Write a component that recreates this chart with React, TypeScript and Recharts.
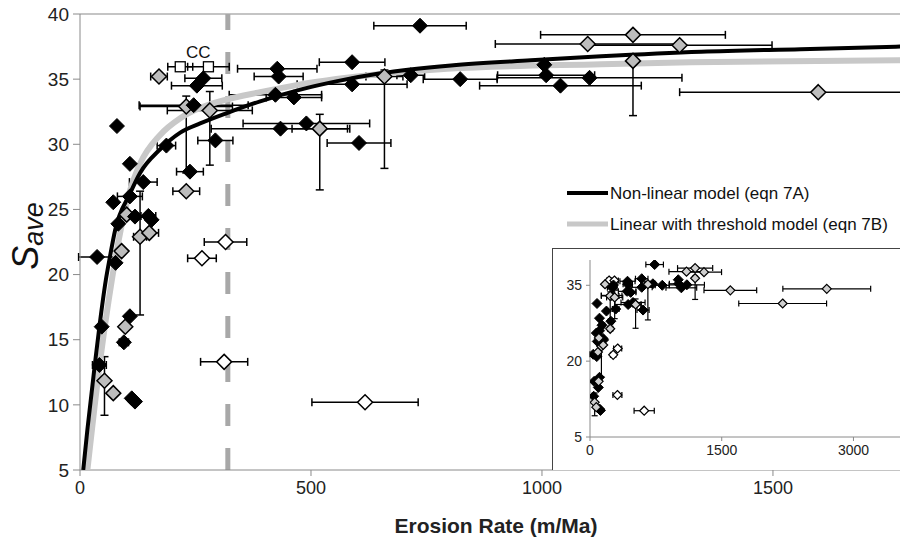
import React from 'react';
import { ComposedChart, ScatterChart, Scatter, XAxis, YAxis, ErrorBar, ReferenceLine, ReferenceDot } from 'recharts';

type Pt = { v: number; s: number; xe?: number | number[]; ye?: number | number[] };

// Filled black diamonds: erosion rate (m/Ma), S_ave, x error, y error
const blackPoints: Pt[] = [
  { v: 37, s: 21.35, xe: 40 },
  { v: 80, s: 31.4 },
  { v: 77, s: 20.9 },
  { v: 47, s: 16.0 },
  { v: 108, s: 16.8 },
  { v: 95, s: 14.8, xe: 10 },
  { v: 42, s: 13.06, xe: 15 },
  { v: 112, s: 10.5 },
  { v: 119, s: 10.25 },
  { v: 72, s: 25.55 },
  { v: 108, s: 26.0, xe: 27 },
  { v: 137, s: 27.1, xe: 30 },
  { v: 108, s: 28.5 },
  { v: 187, s: 29.9, xe: 20 },
  { v: 293, s: 30.3, xe: 38 },
  { v: 238, s: 27.9, xe: 29 },
  { v: 119, s: 24.45 },
  { v: 148, s: 24.5, xe: 16 },
  { v: 83, s: 23.9 },
  { v: 155, s: 24.2 },
  { v: 253, s: 34.5, xe: 55 },
  { v: 267, s: 35.06, xe: 40 },
  { v: 246, s: 33.0, xe: 118 },
  { v: 427, s: 35.8, xe: 86 },
  { v: 430, s: 35.2, xe: 53 },
  { v: 423, s: 33.8, xe: 100 },
  { v: 463, s: 33.6, xe: 60 },
  { v: 434, s: 31.2, xe: 150 },
  { v: 490, s: 31.6, xe: 137 },
  { v: 589, s: 36.3, xe: 71 },
  { v: 589, s: 34.6, xe: 119 },
  { v: 716, s: 35.3, xe: 30 },
  { v: 823, s: 35.0, xe: 80 },
  { v: 604, s: 30.1, xe: 69 },
  { v: 736, s: 39.1, xe: 100 },
  { v: 1005, s: 36.1 },
  { v: 1009, s: 35.3, xe: 105 },
  { v: 1040, s: 34.5, xe: 175 },
  { v: 1103, s: 35.1, xe: 200 },
];

// Grey diamonds
const greyPoints: Pt[] = [
  { v: 171, s: 35.2, xe: 18 },
  { v: 230, s: 32.9, xe: 100, ye: [5.1, 0.8] },
  { v: 281, s: 32.6, xe: 92, ye: [4.2, 1.45] },
  { v: 230, s: 26.4, xe: 29 },
  { v: 90, s: 21.8 },
  { v: 101, s: 24.6 },
  { v: 130, s: 22.9, xe: 14, ye: [6.0, 3.5] },
  { v: 150, s: 23.2, xe: 20 },
  { v: 98, s: 16.0 },
  { v: 53, s: 11.85, ye: [2.65, 1.85] },
  { v: 72, s: 10.9 },
  { v: 519, s: 31.2, xe: 60, ye: [4.7, 1.1] },
  { v: 659, s: 35.2, xe: 40, ye: [7.05, 0.5] },
  { v: 1099, s: 37.7, xe: 200 },
  { v: 1197, s: 38.4, xe: 200 },
  { v: 1298, s: 37.6, xe: 200 },
  { v: 1197, s: 36.4, ye: [4.2, 0.4] },
  { v: 1598, s: 34.0, xe: 300 },
];

// Open diamonds
const openPoints: Pt[] = [
  { v: 315, s: 22.5, xe: 46 },
  { v: 264, s: 21.25, xe: 31 },
  { v: 312, s: 13.3, xe: 51 },
  { v: 617, s: 10.2, xe: 115 },
];

// Open squares (CC)
const ccPoints: Pt[] = [
  { v: 217, s: 35.95, xe: 27 },
  { v: 278, s: 35.95, xe: 45 },
];

// Extra grey points visible only in the wide inset
const insetExtraGrey: Pt[] = [
  { v: 2696, s: 34.3, xe: 500 },
  { v: 2194, s: 31.4, xe: 500 },
];

// Model curves
const nonLinearCurve = [
  { v: 7, s: 5 }, { v: 16, s: 8.1 }, { v: 32.5, s: 13.2 }, { v: 42, s: 16 }, { v: 56, s: 19.6 },
  { v: 65, s: 21.4 }, { v: 76, s: 23.4 }, { v: 108, s: 26.2 }, { v: 130, s: 27.8 }, { v: 173, s: 29.6 },
  { v: 217, s: 30.9 }, { v: 260, s: 31.6 }, { v: 318, s: 32.4 }, { v: 390, s: 33.3 }, { v: 477, s: 34.2 },
  { v: 557, s: 34.85 }, { v: 651, s: 35.45 }, { v: 803, s: 36.05 }, { v: 976, s: 36.45 },
  { v: 1128, s: 36.75 }, { v: 1345, s: 37.1 }, { v: 1560, s: 37.3 }, { v: 1779, s: 37.5 },
];

const thresholdCurve = [
  { v: 16, s: 5 }, { v: 43, s: 13.2 }, { v: 69, s: 19.6 }, { v: 88, s: 23.4 }, { v: 108, s: 26.4 },
  { v: 130, s: 28.5 }, { v: 173, s: 30.7 }, { v: 217, s: 32.0 }, { v: 260, s: 32.8 }, { v: 318, s: 33.45 },
  { v: 390, s: 34.0 }, { v: 477, s: 34.6 }, { v: 651, s: 35.4 }, { v: 795, s: 35.8 }, { v: 1128, s: 36.15 },
  { v: 1323, s: 36.3 }, { v: 1779, s: 36.45 },
];

const mainXTicks = [0, 500, 1000, 1500];
const mainYTicks = [5, 10, 15, 20, 25, 30, 35, 40];
const insetXTicks = [0, 1500, 3000];
const insetYTicks = [5, 20, 35];
const thresholdRate = 320;
const legendLabels = ['Non-linear model (eqn 7A)', 'Linear with threshold model (eqn 7B)'];

const FONT = '"Liberation Sans", Arial, Helvetica, sans-serif';

const diamond = (fill: string, r: number, sw: number) => (props: any) => {
  const { cx, cy } = props;
  if (cx == null || cy == null) return <g />;
  return (
    <path
      d={`M${cx},${cy - r}L${cx + r},${cy}L${cx},${cy + r}L${cx - r},${cy}Z`}
      fill={fill}
      stroke="#000"
      strokeWidth={sw}
    />
  );
};

const square = (r: number) => (props: any) => {
  const { cx, cy } = props;
  if (cx == null || cy == null) return <g />;
  return <rect x={cx - r} y={cy - r} width={2 * r} height={2 * r} fill="#fff" stroke="#000" strokeWidth={1.3} />;
};

const noShape = () => <g />;

const YTitle = () => (
  <text transform="translate(38,236) rotate(-90)" textAnchor="middle" fontFamily={FONT} fill="#111" fontStyle="italic">
    <tspan fontSize={36}>S</tspan>
    <tspan fontSize={27} dy={5}>ave</tspan>
  </text>
);

const XTitle = () => (
  <text x={496} y={533} textAnchor="middle" fontFamily={FONT} fontSize={21} fontWeight="bold" fill="#222">
    Erosion Rate (m/Ma)
  </text>
);

const errBars = (w: number, sw: number) => [
  <ErrorBar key="x" dataKey="xe" direction="x" width={w} stroke="#000" strokeWidth={sw} />,
  <ErrorBar key="y" dataKey="ye" direction="y" width={w} stroke="#000" strokeWidth={sw} />,
];

export default function App() {
  return (
    <div style={{ position: 'absolute', left: 0, top: 0, width: 900, height: 549, background: '#fff', overflow: 'hidden' }}>
      <ComposedChart width={900} height={549} margin={{ top: 14, right: 0, bottom: 0, left: 0 }}>
        <XAxis
          type="number"
          dataKey="v"
          domain={[0, 1775]}
          allowDataOverflow
          ticks={mainXTicks}
          height={79}
          tickSize={6}
          tickMargin={5}
          stroke="#8a8a8a"
          tick={{ fill: '#222', fontSize: 18, fontFamily: FONT }}
          label={{ content: () => <XTitle /> }}
        />
        <YAxis
          type="number"
          dataKey="s"
          domain={[5, 40]}
          allowDataOverflow
          ticks={mainYTicks}
          width={80}
          tickSize={7}
          tickMargin={4}
          stroke="#8a8a8a"
          tick={{ fill: '#222', fontSize: 19, fontFamily: FONT }}
          label={{ content: () => <YTitle /> }}
        />
        <ReferenceLine y={40} stroke="#8a8a8a" strokeWidth={1.2} />
        <ReferenceLine x={thresholdRate} stroke="#a8a8a8" strokeWidth={5} strokeDasharray="22 22" />
        <Scatter data={thresholdCurve} line={{ stroke: '#c8c8c8', strokeWidth: 6 }} lineJointType="monotoneX" shape={noShape} isAnimationActive={false} />
        <Scatter data={nonLinearCurve} line={{ stroke: '#000', strokeWidth: 4 }} lineJointType="monotoneX" shape={noShape} isAnimationActive={false} />
        <Scatter data={openPoints} shape={diamond('#fff', 7.5, 1.5)} isAnimationActive={false}>
          {errBars(4, 1.5)}
        </Scatter>
        <Scatter data={ccPoints} shape={square(5)} isAnimationActive={false}>
          {errBars(4, 1.5)}
        </Scatter>
        <Scatter data={greyPoints} shape={diamond('#bdbdbd', 7.5, 1.5)} isAnimationActive={false}>
          {errBars(4, 1.5)}
        </Scatter>
        <Scatter data={blackPoints} shape={diamond('#000', 7.5, 1)} isAnimationActive={false}>
          {errBars(4, 1.5)}
        </Scatter>
        <ReferenceDot
          x={256}
          y={37.1}
          r={0}
          fill="none"
          stroke="none"
          label={{ value: 'CC', position: 'center', fontSize: 17, fontFamily: FONT, fill: '#111' }}
        />
      </ComposedChart>

      {/* Legend */}
      <svg style={{ position: 'absolute', left: 560, top: 178 }} width={340} height={60}>
        <line x1={7} y1={15} x2={48} y2={15} stroke="#000" strokeWidth={4} />
        <text x={50} y={15} dominantBaseline="central" fontFamily={FONT} fontSize={17} fill="#111">{legendLabels[0]}</text>
        <line x1={7} y1={46} x2={48} y2={46} stroke="#c8c8c8" strokeWidth={5} />
        <text x={50} y={46} dominantBaseline="central" fontFamily={FONT} fontSize={17} fill="#111">{legendLabels[1]}</text>
      </svg>

      {/* Inset */}
      <div
        style={{
          position: 'absolute',
          left: 552,
          top: 248,
          width: 360,
          height: 222,
          background: '#fff',
          borderTop: '1px solid #444',
          borderLeft: '1px solid #444',
          boxSizing: 'border-box',
        }}
      >
        <ScatterChart width={347} height={221} margin={{ top: 11, right: 0, bottom: 0, left: 0 }}>
          <XAxis
            type="number"
            dataKey="v"
            domain={[0, 3530]}
            allowDataOverflow
            ticks={insetXTicks}
            height={33}
            tickSize={4}
            tickMargin={4}
            stroke="#8a8a8a"
            tick={{ fill: '#222', fontSize: 14, fontFamily: FONT }}
          />
          <YAxis
            type="number"
            dataKey="s"
            domain={[5, 40]}
            allowDataOverflow
            ticks={insetYTicks}
            width={37}
            tickSize={4}
            tickMargin={4}
            stroke="#8a8a8a"
            tick={{ fill: '#222', fontSize: 14, fontFamily: FONT }}
          />
          <Scatter data={openPoints} shape={diamond('#fff', 4.5, 1.2)} isAnimationActive={false}>
            {errBars(3, 1.2)}
          </Scatter>
          <Scatter data={ccPoints} shape={diamond('#fff', 4.5, 1.2)} isAnimationActive={false}>
            {errBars(3, 1.2)}
          </Scatter>
          <Scatter data={blackPoints} shape={diamond('#000', 5, 1)} isAnimationActive={false}>
            {errBars(3, 1.2)}
          </Scatter>
          <Scatter data={greyPoints} shape={diamond('#cfcfcf', 4.5, 1.2)} isAnimationActive={false}>
            {errBars(3, 1.2)}
          </Scatter>
          <Scatter data={insetExtraGrey} shape={diamond('#cfcfcf', 4.5, 1.2)} isAnimationActive={false}>
            {errBars(3, 1.2)}
          </Scatter>
        </ScatterChart>
      </div>
    </div>
  );
}
